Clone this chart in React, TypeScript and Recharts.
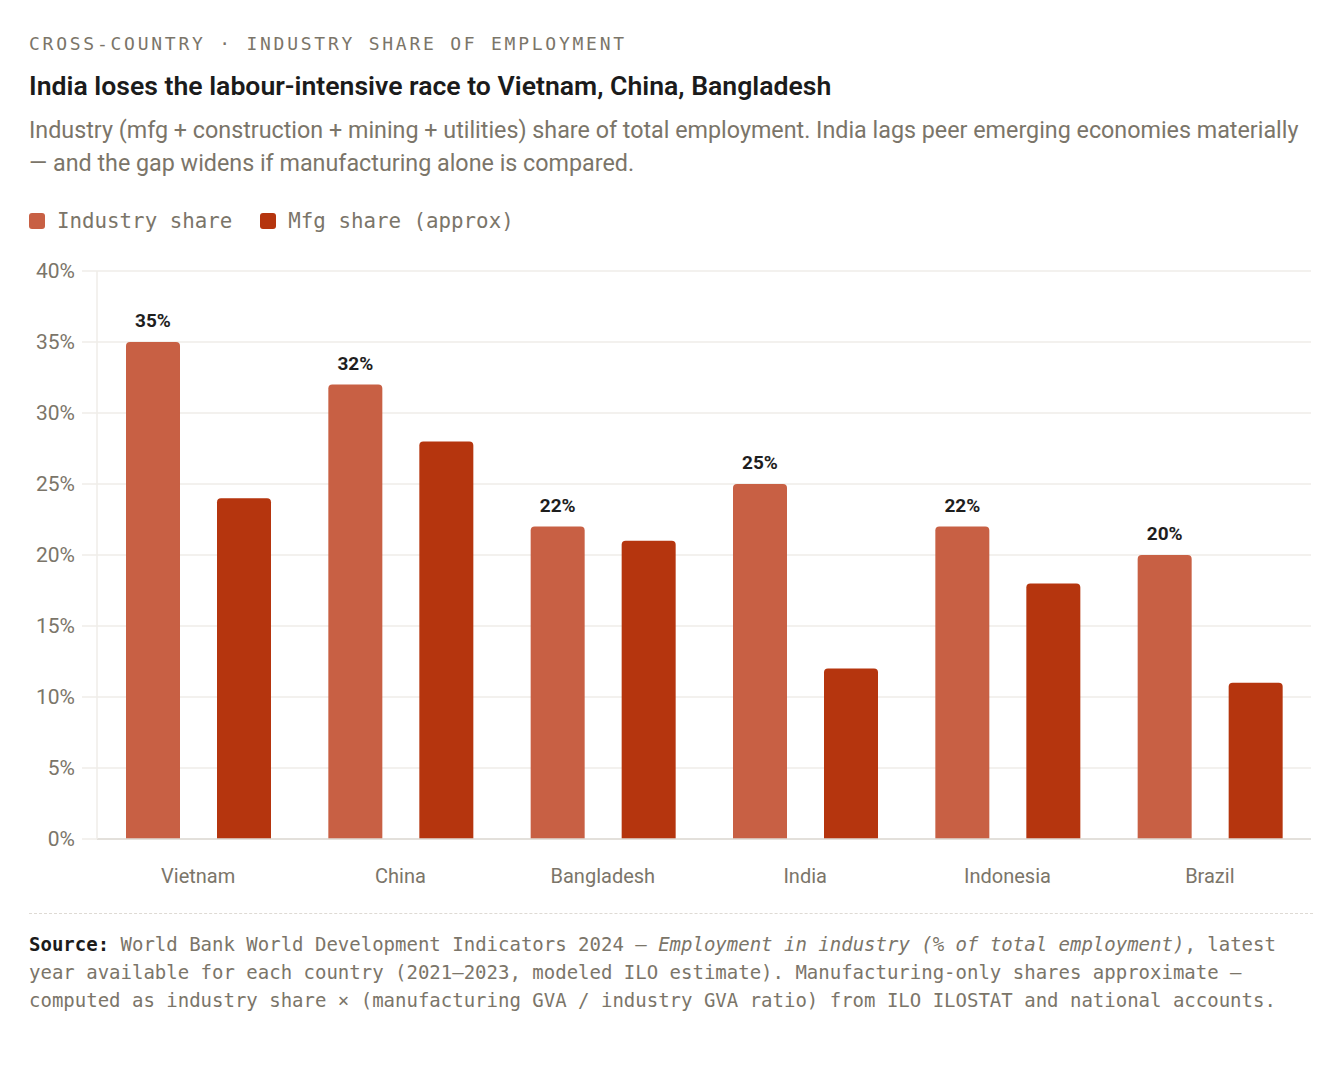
import { Bar, BarChart, CartesianGrid, LabelList, XAxis, YAxis } from "recharts";

const countries = ["Vietnam", "China", "Bangladesh", "India", "Indonesia", "Brazil"];
const industryShare = [35, 32, 22, 25, 22, 20];
const mfgShare = [24, 28, 21, 12, 18, 11];
const yTicks = [0, 5, 10, 15, 20, 25, 30, 35, 40];

const data = countries.map((name, i) => ({
   name,
   industry: industryShare[i],
   mfg: mfgShare[i],
}));

const SANS = "Roboto, 'Noto Sans', sans-serif";
const MONO = "'DejaVu Sans Mono', 'Liberation Mono', monospace";
const GRAY = "#7b7569";
const INDUSTRY = "#C86044";
const MFG = "#B5350E";

const LegendItem = ({ color, label }: { color: string; label: string }) => (
   <div style={{ display: "flex", alignItems: "center", marginRight: 28 }}>
      <div
         style={{
            width: 16,
            height: 16,
            borderRadius: 3,
            background: color,
            marginRight: 12,
         }}
      />
      <span style={{ fontFamily: MONO, fontSize: 20.8, color: GRAY }}>{label}</span>
   </div>
);

export default function App() {
   return (
      <div style={{ position: "relative", width: 1344, height: 1072, background: "#fff" }}>
         <style>{`body{margin:0}`}</style>

         <div
            style={{
               position: "absolute",
               left: 29,
               top: 33,
               fontFamily: MONO,
               fontSize: 18,
               letterSpacing: 2.75,
               color: GRAY,
            }}
         >
            CROSS-COUNTRY · INDUSTRY SHARE OF EMPLOYMENT
         </div>

         <div
            style={{
               position: "absolute",
               left: 29,
               top: 70,
               fontFamily: SANS,
               fontSize: 26.6,
               fontWeight: 600,
               color: "#1b1b1b",
            }}
         >
            India loses the labour-intensive race to Vietnam, China, Bangladesh
         </div>

         <div
            style={{
               position: "absolute",
               left: 29,
               top: 114,
               fontFamily: SANS,
               fontSize: 23.3,
               lineHeight: "33px",
               color: GRAY,
               whiteSpace: "nowrap",
            }}
         >
            Industry (mfg + construction + mining + utilities) share of total employment. India lags peer emerging economies materially
            <br />— and the gap widens if manufacturing alone is compared.
         </div>

         <div style={{ position: "absolute", left: 29, top: 209, display: "flex" }}>
            <LegendItem color={INDUSTRY} label="Industry share" />
            <LegendItem color={MFG} label="Mfg share (approx)" />
         </div>

         <div style={{ position: "absolute", left: 0, top: 250 }}>
            <BarChart
               width={1330}
               height={660}
               data={data}
               margin={{ top: 21, right: 19, left: 0, bottom: 21 }}
               barSize={54}
               barGap={37}
            >
               <CartesianGrid vertical={false} stroke="#efece8" strokeWidth={1.5} />
               <XAxis
                  dataKey="name"
                  height={50}
                  axisLine={{ stroke: "#dedad4", strokeWidth: 1.5 }}
                  tickLine={false}
                  tickMargin={24}
                  tick={{ fill: GRAY, fontSize: 20, fontFamily: SANS }}
               />
               <YAxis
                  width={97}
                  domain={[0, 40]}
                  ticks={yTicks}
                  tickFormatter={(v) => `${v}%`}
                  axisLine={{ stroke: "#efece8", strokeWidth: 1.5 }}
                  tickLine={{ stroke: "#efece8", strokeWidth: 1.5 }}
                  tickSize={15}
                  tickMargin={7}
                  tick={{ fill: GRAY, fontSize: 21, fontFamily: SANS }}
               />
               <Bar dataKey="industry" fill={INDUSTRY} radius={[4, 4, 0, 0]} isAnimationActive={false}>
                  <LabelList
                     dataKey="industry"
                     position="top"
                     offset={15}
                     formatter={(v: number) => `${v}%`}
                     style={{ fill: "#1e1e1e", fontSize: 19, fontWeight: 700, fontFamily: SANS }}
                  />
               </Bar>
               <Bar dataKey="mfg" fill={MFG} radius={[4, 4, 0, 0]} isAnimationActive={false} />
            </BarChart>
         </div>

         <div
            style={{
               position: "absolute",
               left: 29,
               top: 913,
               width: 1284,
               borderTop: "1.5px dashed #dedad4",
            }}
         />

         <div
            style={{
               position: "absolute",
               left: 29,
               top: 930,
               fontFamily: MONO,
               fontSize: 19,
               lineHeight: "28px",
               color: GRAY,
               whiteSpace: "nowrap",
            }}
         >
            <b style={{ color: "#1b1b1b" }}>Source:</b> World Bank World Development Indicators 2024 —{" "}
            <i>Employment in industry (% of total employment)</i>, latest
            <br />
            year available for each country (2021–2023, modeled ILO estimate). Manufacturing-only shares approximate —
            <br />
            computed as industry share × (manufacturing GVA / industry GVA ratio) from ILO ILOSTAT and national accounts.
         </div>
      </div>
   );
}
